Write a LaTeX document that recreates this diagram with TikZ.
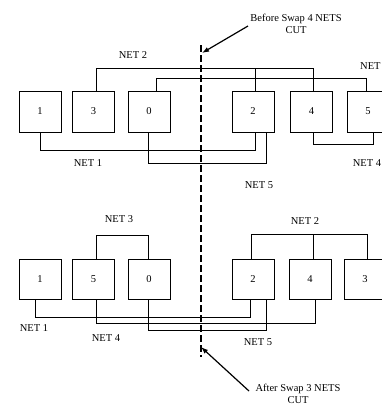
\documentclass[tikz,border=0pt]{standalone}
\usepackage{fontspec}
\setmainfont{Liberation Serif}
\usetikzlibrary{arrows.meta}
\begin{document}
\begin{tikzpicture}[x=1pt,y=-1pt,
  cell/.style={draw,line width=0.8pt,minimum width=42pt,minimum height=41pt,inner sep=0pt,font=\fontsize{10.5}{12}\selectfont},
  wire/.style={line width=0.8pt},
  lbl/.style={inner sep=0pt,font=\fontsize{10.5}{12}\selectfont},
  cutline/.style={line width=1.7pt,dash pattern=on 7pt off 3pt},
  pointer/.style={line width=1.2pt,-{Latex[length=7pt,width=5pt]}}]
\useasboundingbox (0,0) rectangle (382,405);
\clip (0,0) rectangle (382,405);
% top row
\node[cell] (t1) at (40,111.5) {1};
\node[cell] (t3) at (93.5,111.5) {3};
\node[cell] (t0) at (149,111.5) {0};
\node[cell] (t2) at (253,111.5) {2};
\node[cell] (t4) at (311.5,111.5) {4};
\node[cell] (t5) at (368,111.5) {5};
% top nets
\draw[wire] ([xshift=2.5pt]t3.north) -- ++(0,-22) -| ([xshift=1.5pt]t4.north);
\draw[wire] ([xshift=2pt]t2.north) -- ++(0,-22);
\draw[wire] ([xshift=7pt]t0.north) -- ++(0,-12) -| ([xshift=-2pt]t5.north);
\draw[wire] (t1.south) -- ++(0,18) -| ([xshift=2pt]t2.south);
\draw[wire] ([xshift=-1pt]t0.south) -- ++(0,31) -| ([xshift=13pt]t2.south);
\draw[wire] ([xshift=1.5pt]t4.south) -- ++(0,12) -| ([xshift=5pt]t5.south);
\node[lbl] (tn2) at (133,55) {NET 2};
\node[lbl,anchor=west] (tn3) at (360,66) {NET};
\node[lbl] (tn1) at (88,163) {NET 1};
\node[lbl] (tn5) at (259,185) {NET 5};
\node[lbl] (tn4) at (367,163) {NET 4};
% bottom row
\node[cell,minimum height=40pt] (b1) at (40,279) {1};
\node[cell,minimum height=40pt] (b5) at (93.5,279) {5};
\node[cell,minimum height=40pt] (b0) at (149,279) {0};
\node[cell,minimum height=40pt] (b2) at (253,279) {2};
\node[cell,minimum height=40pt] (b4) at (310,279) {4};
\node[cell,minimum height=40pt] (b3) at (365,279) {3};
% bottom nets
\draw[wire] ([xshift=2.5pt]b5.north) -- ++(0,-23.5) -| ([xshift=-1pt]b0.north);
\draw[wire] ([xshift=-2pt]b2.north) -- ++(0,-24) -| ([xshift=2pt]b3.north);
\draw[wire] ([xshift=3pt]b4.north) -- ++(0,-24);
\draw[wire] ([xshift=-5pt]b1.south) -- ++(0,17.5) -| ([xshift=-3pt]b2.south);
\draw[wire] ([xshift=2.5pt]b5.south) -- ++(0,24) -| ([xshift=5.5pt]b4.south);
\draw[wire] ([xshift=-1pt]b0.south) -- ++(0,31) -| ([xshift=13pt]b2.south);
\node[lbl] (bn3) at (119,219) {NET 3};
\node[lbl] (bn2) at (305,221) {NET 2};
\node[lbl] (bn1) at (34,328) {NET 1};
\node[lbl] (bn4) at (106,338) {NET 4};
\node[lbl] (bn5) at (258,342) {NET 5};
% cut line
\coordinate (cutA) at (201,45);
\coordinate (cutB) at (201,357);
\draw[cutline] (cutA) -- (cutB);
% captions and pointers
\node[lbl,align=center] (before) at (296,24) {Before Swap 4 NETS\\CUT};
\node[lbl,align=center] (after) at (298,394) {After Swap 3 NETS\\CUT};
\coordinate (beforeTail) at (248,26);
\coordinate (beforeHead) at (202,53);
\coordinate (afterTail) at (249,391);
\coordinate (afterHead) at (201,347);
\draw[pointer] (beforeTail) -- (beforeHead);
\draw[pointer] (afterTail) -- (afterHead);
\end{tikzpicture}
\end{document}
